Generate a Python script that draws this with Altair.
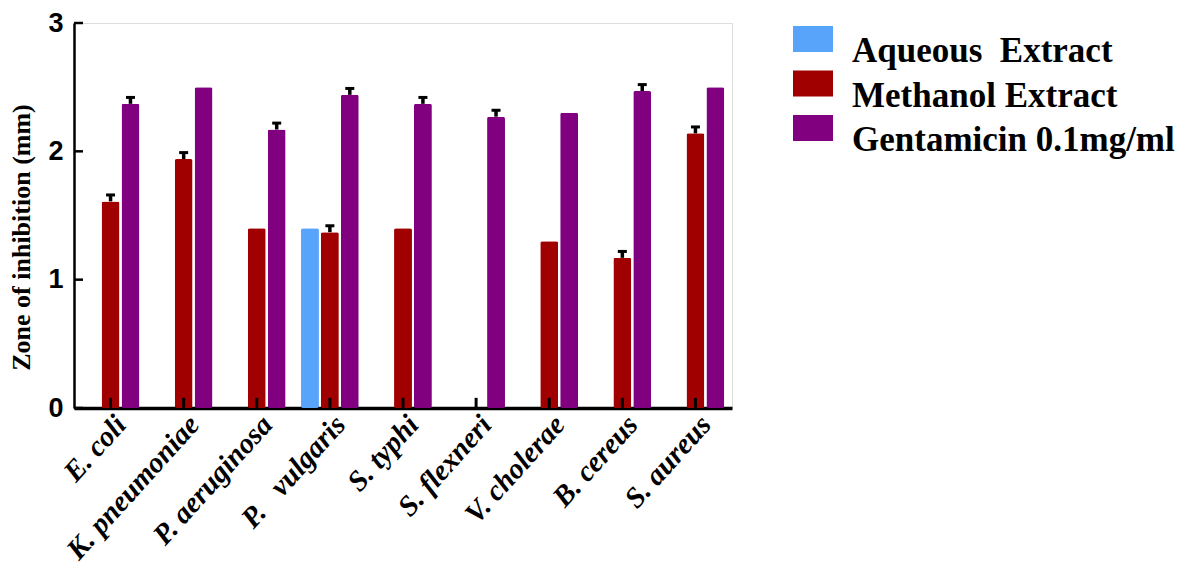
import altair as alt
import pandas as pd

categories = ["E. coli", "K. pneumoniae", "P. aeruginosa", "P.\u00a0\u00a0 vulgaris", "S. typhi",
              "S. flexneri", "V. cholerae", "B. cereus", "S. aureus"]
series = ["Aqueous\u00a0 Extract", "Methanol Extract", "Gentamicin 0.1mg/ml"]
colors = ["#58A4FB", "#A00000", "#800080"]

aqueous = [0, 0, 0, 1.40, 0, 0, 0, 0, 0]
methanol = [1.61, 1.94, 1.40, 1.37, 1.40, 0, 1.30, 1.17, 2.14]
gentamicin = [2.37, 2.50, 2.17, 2.44, 2.37, 2.27, 2.30, 2.47, 2.50]
aqueous_err = [0, 0, 0, 0, 0, 0, 0, 0, 0]
methanol_err = [0.05, 0.05, 0, 0.05, 0, 0, 0, 0.05, 0.05]
gentamicin_err = [0.05, 0, 0.05, 0.05, 0.05, 0.05, 0, 0.05, 0]
y_ticks = [0, 1, 2, 3]
x_tick_mid = 0.04

rows = []
for s, vals, errs in zip(series, [aqueous, methanol, gentamicin],
                         [aqueous_err, methanol_err, gentamicin_err]):
    for c, v, e in zip(categories, vals, errs):
        rows.append({"organism": c, "series": s, "value": v, "err": e, "top": v + e})
df = pd.DataFrame(rows)
bars_df = df[df["value"] > 0]
err_df = df[df["err"] > 0]
# axis ticks sit at the centre of each group (the middle series slot)
cat_df = pd.DataFrame({"organism": categories, "series": [series[1]] * len(categories),
                       "top": [x_tick_mid] * len(categories)})
ytick_df = pd.DataFrame({"tick": y_ticks})

TITLE = "Zone of inhibition (mm)"
x_scale = alt.Scale(domain=categories, paddingInner=0.21, paddingOuter=0.105)
xo_scale = alt.Scale(domain=series, paddingInner=0.1)
y_scale = alt.Scale(domain=[0, 3], nice=False)

x_enc = alt.X("organism:N", sort=categories, scale=x_scale, title=None)
xo_enc = alt.XOffset("series:N", scale=xo_scale, sort=series)

bars = alt.Chart(bars_df).mark_bar(cornerRadius=2).encode(
    x=x_enc,
    xOffset=xo_enc,
    y=alt.Y("value:Q", scale=y_scale, title=TITLE,
            axis=alt.Axis(values=y_ticks, format="d")),
    color=alt.Color("series:N", scale=alt.Scale(domain=series, range=colors), sort=series,
                    legend=alt.Legend(title=None, orient="none", legendX=719, legendY=8,
                                      symbolType="M-1,-1.25H1V0.05H-1Z", symbolSize=1600,
                                      symbolStrokeWidth=0, symbolOpacity=1,
                                      labelFont="Liberation Serif", labelFontWeight="bold",
                                      labelFontSize=35, labelColor="black", labelOffset=19,
                                      rowPadding=1.5, padding=0, labelLimit=600)),
)

err_rule = alt.Chart(err_df).mark_rule(color="black", strokeWidth=3.5).encode(
    x=x_enc, xOffset=xo_enc, y=alt.Y("value:Q", scale=y_scale, title=TITLE), y2="top:Q")
err_cap = alt.Chart(err_df).mark_tick(color="black", thickness=3, size=9, opacity=1).encode(
    x=x_enc, xOffset=xo_enc, y=alt.Y("top:Q", scale=y_scale, title=TITLE))

x_ticks = alt.Chart(cat_df).mark_tick(color="black", thickness=3, size=10, orient="vertical",
                                      opacity=1).encode(
    x=x_enc, xOffset=xo_enc, y=alt.Y("top:Q", scale=y_scale, title=TITLE))
y_tick_marks = alt.Chart(ytick_df).mark_tick(color="black", thickness=2.5, size=9,
                                             orient="horizontal", opacity=1).encode(
    y=alt.Y("tick:Q", scale=y_scale, title=TITLE), x=alt.value(4.5))

chart = alt.layer(bars, err_rule, err_cap, x_ticks, y_tick_marks).properties(
    width=658, height=385,
    autosize=alt.AutoSizeParams(type="none"),
    padding={"left": 66, "top": 15, "right": 451, "bottom": 162},
).configure_view(stroke=None).configure(background="white").configure_axis(
    grid=False, ticks=False, domainColor="black", labelColor="black", titleColor="black"
).configure_axisX(
    domainWidth=3.5, labelAngle=-48, labelAlign="right", labelBaseline="top",
    labelFont="Liberation Serif", labelFontStyle="italic", labelFontWeight="bold",
    labelFontSize=29, labelPadding=2, labelLimit=400
).configure_axisY(
    domainWidth=2.5, labelFont="Liberation Sans", labelFontWeight="bold", labelFontSize=27,
    labelPadding=11, titleFont="Liberation Serif", titleFontWeight="bold", titleFontSize=26,
    titleX=-40, titleY=214, titleBaseline="bottom", titleAngle=-90
)

chart.save("out.html", embed_options={"renderer": "svg", "actions": False})
